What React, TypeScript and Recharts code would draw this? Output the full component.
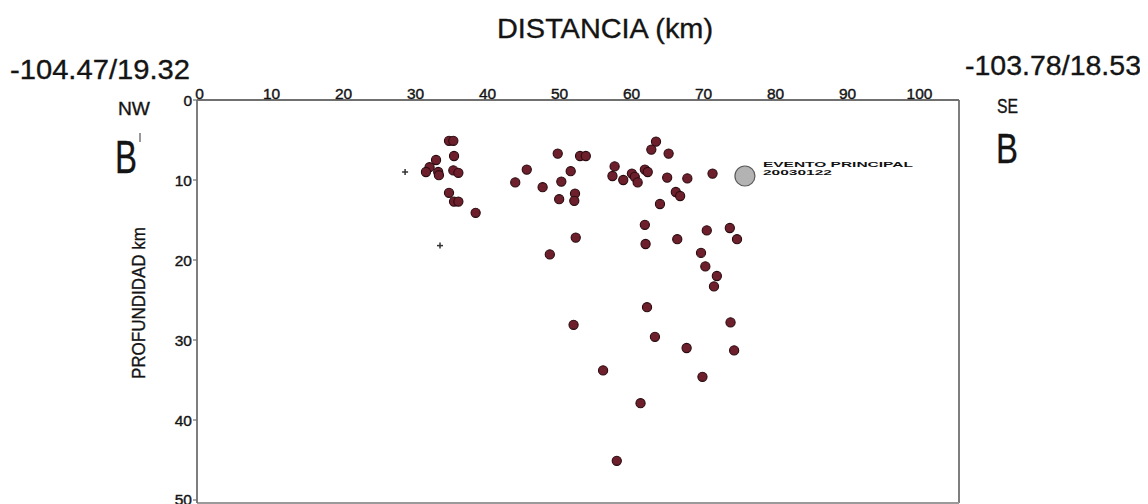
import React from "react";
import { ScatterChart, Scatter, XAxis, YAxis, ReferenceLine } from "recharts";

// ---- data (km) ----
const distanciaKm = [35.0, 35.6, 35.7, 33.2, 32.3, 31.8, 33.5, 33.6, 35.6, 36.3, 35.0, 35.7, 36.3, 38.7,
  44.2, 45.8, 48.0, 50.1, 51.9, 50.6, 50.3, 52.5, 52.4, 52.6, 53.2, 54.0,
  63.75, 63.1, 65.5, 58.0, 57.7, 59.2, 60.4, 60.8, 61.2, 62.2, 62.6, 65.3, 68.1, 71.6, 66.5, 67.1, 64.3, 62.2, 62.3, 66.7, 70.8, 74.0, 75.0,
  49.0, 52.3, 56.4, 58.3, 61.6, 62.5, 63.6, 70.0, 70.6, 72.2, 71.8, 68.0, 70.2, 74.1, 74.6];
const profundidadKm = [5.1, 5.1, 7.0, 7.5, 8.4, 9.0, 9.0, 9.4, 8.8, 9.1, 11.6, 12.7, 12.7, 14.1,
  10.3, 8.7, 10.9, 6.7, 8.9, 10.2, 12.4, 11.7, 12.6, 17.2, 7.0, 7.0,
  5.2, 6.2, 6.7, 8.3, 9.5, 10.0, 9.2, 9.6, 10.3, 8.7, 9.0, 9.7, 9.8, 9.2, 11.5, 12.0, 13.0, 15.6, 18.0, 17.4, 16.3, 16.0, 17.4,
  19.3, 28.1, 33.8, 45.1, 37.9, 25.9, 29.6, 19.1, 20.8, 22.0, 23.3, 31.0, 34.6, 27.8, 31.3];

const crucesDistancia = [28.9, 33.75];
const crucesProfundidad = [9.0, 18.2];

const eventoDistancia = [76.1];
const eventoProfundidad = [9.5];
const eventoEtiqueta = ["EVENTO PRINCIPAL", "20030122"];

const xTicks = [0, 10, 20, 30, 40, 50, 60, 70, 80, 90, 100];
const yTicks = [0, 10, 20, 30, 40, 50];
const X_MAX = 105.83;
const Y_MAX = 50.375;

const sismos = distanciaKm.map((d, i) => ({ d, p: profundidadKm[i] }));
const cruces = crucesDistancia.map((d, i) => ({ d, p: crucesProfundidad[i] }));
const evento = eventoDistancia.map((d, i) => ({ d, p: eventoProfundidad[i] }));

const FONT = "'Liberation Sans', Arial, sans-serif";
const AXIS_COLOR = "#707070";
const INK = "#141414";

const Dot = (props: any) => (
  <circle cx={props.cx} cy={props.cy} r={4.6} fill="#6d1f2b" stroke="#2a0b10" strokeWidth={1.1} />
);

const Cross = (props: any) => {
  const { cx, cy } = props;
  return (
    <g stroke="#333" strokeWidth={1.5}>
      <line x1={cx - 3} y1={cy} x2={cx + 3} y2={cy} />
      <line x1={cx} y1={cy - 3} x2={cx} y2={cy + 3} />
    </g>
  );
};

const Evento = (props: any) => {
  const { cx, cy } = props;
  return (
    <g>
      <circle cx={cx} cy={cy} r={10} fill="#b3b3b3" stroke="#5a5a5a" strokeWidth={1.2} />
      <text x={cx + 18} y={cy - 9.5} fontFamily={FONT} fontWeight="bold" fontSize={7.5} fill="#111"
        textLength={150} lengthAdjust="spacingAndGlyphs">{eventoEtiqueta[0]}</text>
      <text x={cx + 18} y={cy - 1.5} fontFamily={FONT} fontWeight="bold" fontSize={7.5} fill="#111"
        textLength={69} lengthAdjust="spacingAndGlyphs">{eventoEtiqueta[1]}</text>
    </g>
  );
};

const XTick = (props: any) => {
  const { x, y, payload } = props;
  return (
    <text x={x + 2.5} y={y - 1.5} textAnchor="middle" fontFamily={FONT} fontSize={15.5} fill={INK}
      stroke={INK} strokeWidth={0.4}>
      {payload.value}
    </text>
  );
};

const YTick = (props: any) => {
  const { x, y, payload } = props;
  return (
    <text x={x} y={y + 6} textAnchor="end" fontFamily={FONT} fontSize={15.5} fill={INK}
      stroke={INK} strokeWidth={0.4}>
      {payload.value}
    </text>
  );
};

export default function App() {
  return (
    <div style={{ position: "relative", width: 1140, height: 500 }}>
      <ScatterChart width={1140} height={500} margin={{ top: 62, right: 189, bottom: 5, left: 149 }}>
        <XAxis
          type="number"
          dataKey="d"
          orientation="top"
          domain={[0, X_MAX]}
          ticks={xTicks}
          height={30}
          tickSize={0}
          tickMargin={0}
          tickLine={false}
          tick={<XTick />}
          axisLine={{ stroke: AXIS_COLOR, strokeWidth: 1.8 }}
          allowDataOverflow
        />
        <YAxis
          type="number"
          dataKey="p"
          reversed
          domain={[0, Y_MAX]}
          ticks={yTicks}
          width={40}
          tickSize={4}
          tickMargin={1}
          tickLine={{ stroke: AXIS_COLOR, strokeWidth: 1.2 }}
          tick={<YTick />}
          axisLine={{ stroke: AXIS_COLOR, strokeWidth: 1.8 }}
          allowDataOverflow
        />
        <ReferenceLine x={X_MAX} stroke={AXIS_COLOR} strokeWidth={1.8} />
        <ReferenceLine y={Y_MAX} stroke="#9a9a9a" strokeWidth={1.8} />
        <Scatter data={cruces} shape={<Cross />} isAnimationActive={false} />
        <Scatter data={sismos} shape={<Dot />} isAnimationActive={false} />
        <Scatter data={evento} shape={<Evento />} isAnimationActive={false} />
      </ScatterChart>
      <svg width={1140} height={500} style={{ position: "absolute", left: 0, top: 0, pointerEvents: "none" }}>
        <g fill={INK} stroke={INK} strokeWidth={0.35} fontFamily={FONT}>
          <text x={597} y={29.5} textAnchor="middle" fontSize={28} textLength={216} lengthAdjust="spacingAndGlyphs">DISTANCIA (km)</text>
          <text x={2} y={71} fontSize={27} textLength={180} lengthAdjust="spacingAndGlyphs">-104.47/19.32</text>
          <text x={957} y={67} fontSize={27} textLength={176} lengthAdjust="spacingAndGlyphs">-103.78/18.53</text>
          <text x={110} y={107} fontSize={19} textLength={32} lengthAdjust="spacingAndGlyphs">NW</text>
          <text x={107} y={165} fontSize={46} textLength={22} lengthAdjust="spacingAndGlyphs">B</text>
          <text x={989} y={105} fontSize={20} textLength={21} lengthAdjust="spacingAndGlyphs">SE</text>
          <text x={988} y={155} fontSize={43} textLength={22} lengthAdjust="spacingAndGlyphs">B</text>
          <text transform="translate(137,295) rotate(-90)" textAnchor="middle" fontSize={19}
            textLength={152} lengthAdjust="spacingAndGlyphs">PROFUNDIDAD km</text>
        </g>
        <line x1={132} y1={125} x2={132} y2={134} stroke="#333" strokeWidth={1} />
      </svg>
    </div>
  );
}
